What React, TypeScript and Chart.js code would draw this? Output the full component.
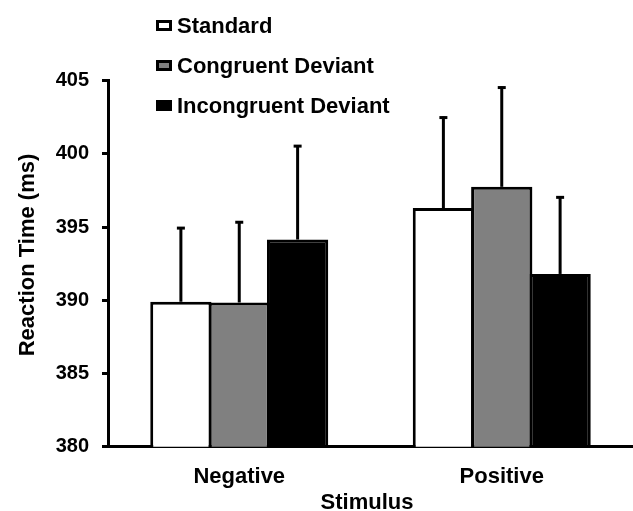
import React, { useEffect, useRef } from "react";
import { Chart, registerables } from "chart.js";

Chart.register(...registerables);

const categories = ["Negative", "Positive"];
const seriesNames = ["Standard", "Congruent Deviant", "Incongruent Deviant"];
const seriesColors = ["#ffffff", "#808080", "#000000"];
const standardValues = [389.9, 396.3];
const congruentValues = [389.85, 397.75];
const incongruentValues = [394.15, 391.8];
const standardErrors = [5.1, 6.25];
const congruentErrors = [5.55, 6.85];
const incongruentErrors = [6.45, 5.3];
const yMin = 380;
const yMax = 405;
const yStep = 5;
const xTitle = "Stimulus";
const yTitle = "Reaction Time (ms)";

const FONT = '"Liberation Sans", Arial, Helvetica, sans-serif';

export default function App() {
  const ref = useRef<HTMLCanvasElement | null>(null);

  useEffect(() => {
    const canvas = ref.current;
    if (!canvas) return;
    const values = [standardValues, congruentValues, incongruentValues];
    const errors = [standardErrors, congruentErrors, incongruentErrors];

    const errorBars = {
      id: "errorBars",
      afterDatasetsDraw(chart: any) {
        const ctx = chart.ctx;
        const y = chart.scales.y;
        ctx.save();
        ctx.strokeStyle = "#000";
        ctx.lineWidth = 3;
        chart.data.datasets.forEach((ds: any, i: number) => {
          const meta = chart.getDatasetMeta(i);
          meta.data.forEach((bar: any, j: number) => {
            const v = values[i][j];
            const e = errors[i][j];
            const yTop = y.getPixelForValue(v + e);
            const yBase = y.getPixelForValue(v);
            ctx.beginPath();
            ctx.moveTo(bar.x, yBase);
            ctx.lineTo(bar.x, yTop);
            ctx.stroke();
            ctx.beginPath();
            ctx.moveTo(bar.x - 4, yTop + 1);
            ctx.lineTo(bar.x + 4, yTop + 1);
            ctx.stroke();
          });
        });
        ctx.restore();
      },
    };

    const customLegend = {
      id: "customLegend",
      afterDraw(chart: any) {
        const ctx = chart.ctx;
        ctx.save();
        ctx.font = `bold 22px ${FONT}`;
        ctx.textBaseline = "middle";
        ctx.textAlign = "left";
        chart.data.datasets.forEach((ds: any, i: number) => {
          const cy = 25.5 + i * 40;
          ctx.fillStyle = ds.backgroundColor;
          ctx.fillRect(157.5, cy - 4, 13, 8);
          ctx.lineWidth = 3;
          ctx.strokeStyle = "#000";
          ctx.strokeRect(157.5, cy - 4, 13, 8);
          ctx.fillStyle = "#000";
          ctx.fillText(ds.label, 177, cy + 1);
        });
        // axis titles
        ctx.textAlign = "center";
        ctx.fillText(xTitle, 367, 503);
        ctx.translate(28, 255);
        ctx.rotate(-Math.PI / 2);
        ctx.fillText(yTitle, 0, 0);
        ctx.restore();
      },
    };

    const chart = new Chart(canvas, {
      type: "bar",
      data: {
        labels: categories,
        datasets: seriesNames.map((name, i) => ({
          label: name,
          data: values[i],
          backgroundColor: seriesColors[i],
          borderColor: "#000",
          borderWidth: 3,
          borderSkipped: false,
          barPercentage: 1.05,
          categoryPercentage: 0.667,
        })),
      },
      options: {
        responsive: false,
        animation: false,
        events: [],
        layout: { padding: { top: 80.7, left: 0, right: 0, bottom: 0 } },
        plugins: {
          legend: { display: false },
          tooltip: { enabled: false },
        },
        scales: {
          x: {
            grid: { display: false },
            border: { display: true, color: "#000", width: 3 },
            ticks: {
              color: "#000",
              font: { family: FONT, size: 22, weight: "bold", lineHeight: 1.2 },
              padding: 9,
            },
            title: { display: false, text: xTitle },
            afterFit(scale: any) {
              scale.height = 64.3;
            },
          },
          y: {
            min: yMin,
            max: yMax,
            grid: {
              display: true,
              drawOnChartArea: false,
              drawTicks: true,
              tickLength: 6,
              tickWidth: 3,
              tickColor: "#000",
              color: "#000",
              lineWidth: 3,
            },
            border: { display: true, color: "#000", width: 3 },
            ticks: {
              stepSize: yStep,
              color: "#000",
              padding: 13,
              font: { family: FONT, size: 20, weight: "bold" },
            },
            title: { display: false, text: yTitle },
            afterFit(scale: any) {
              scale.width = 108;
            },
          },
        },
      },
      plugins: [errorBars, customLegend],
    });
    return () => chart.destroy();
  }, []);

  return (
    <div style={{ position: "absolute", left: 0, top: 0, width: 633, height: 511, background: "#fff" }}>
      <canvas ref={ref} width={633} height={511} style={{ display: "block" }} />
    </div>
  );
}
